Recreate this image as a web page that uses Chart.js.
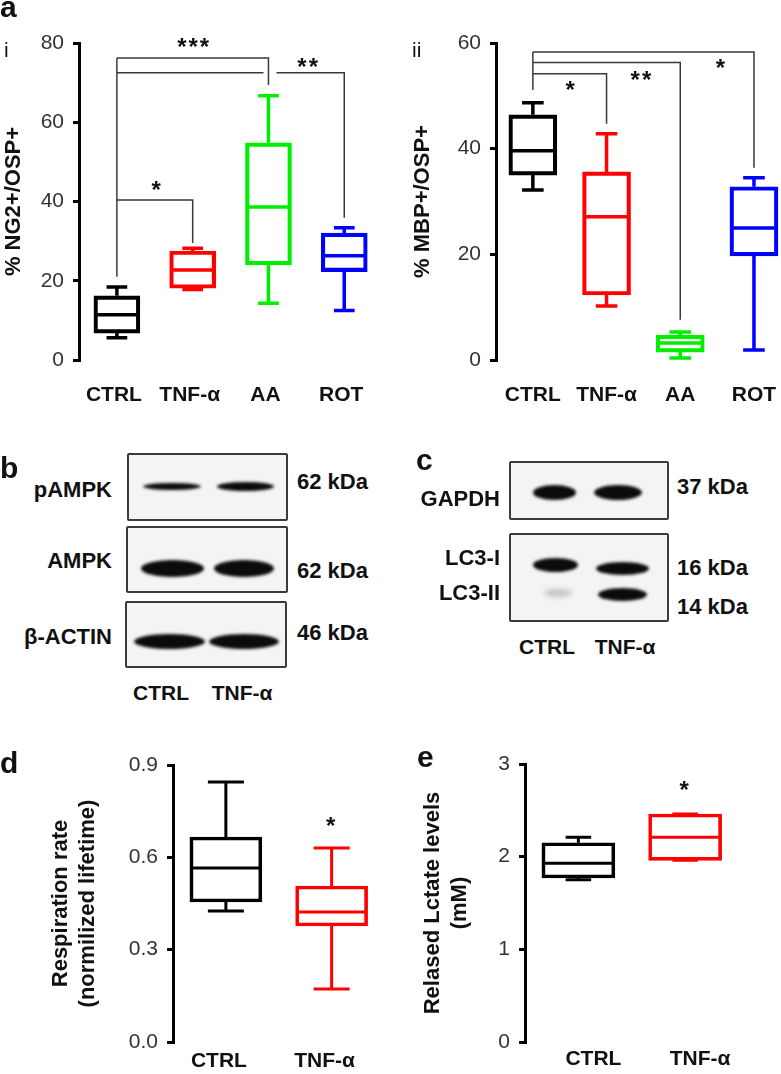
<!DOCTYPE html>
<html>
<head>
<meta charset="utf-8">
<script src="https://cdn.jsdelivr.net/npm/chart.js@4.4.1/dist/chart.umd.min.js"></script>
<style>
  html, body { margin: 0; padding: 0; width: 781px; height: 1074px; overflow: hidden; background: #fff; }
  canvas { position: absolute; }
  .t { position: absolute; font: bold 22px 'Liberation Sans', Arial, sans-serif; color: #111; white-space: nowrap; line-height: 1; }
  .blot { position: absolute; border: 2px solid #3a3a3a; border-radius: 2px; background: #f4f4f4; box-sizing: border-box; overflow: hidden; }
  .band { position: absolute; background: #0b0b0b; border-radius: 50%; filter: blur(1.6px); }
</style>
</head>
<body>
<canvas id="chartA1" width="390" height="420" style="left:0;top:0"></canvas>
<canvas id="chartA2" width="410" height="420" style="left:390px;top:0"></canvas>
<canvas id="chartD" width="390" height="344" style="left:0;top:740px"></canvas>
<canvas id="chartE" width="391" height="344" style="left:390px;top:740px"></canvas>

<!-- western blots, panel b -->
<div class="blot" style="left:127px;top:453px;width:161px;height:68px">
  <div class="band" style="left:14px;top:28px;width:58px;height:7px"></div>
  <div class="band" style="left:88px;top:27px;width:57px;height:9px"></div>
</div>
<div class="blot" style="left:126px;top:526px;width:162px;height:67px">
  <div class="band" style="left:13px;top:32px;width:63px;height:17px"></div>
  <div class="band" style="left:86px;top:32px;width:60px;height:17px"></div>
</div>
<div class="blot" style="left:125px;top:601px;width:162px;height:67px">
  <div class="band" style="left:7px;top:31px;width:71px;height:15px"></div>
  <div class="band" style="left:82px;top:31px;width:70px;height:15px"></div>
</div>

<!-- western blots, panel c -->
<div class="blot" style="left:509px;top:461px;width:160px;height:59px">
  <div class="band" style="left:22px;top:22px;width:43px;height:15px"></div>
  <div class="band" style="left:83px;top:22px;width:48px;height:15px"></div>
</div>
<div class="blot" style="left:509px;top:533px;width:160px;height:89px">
  <div class="band" style="left:22px;top:23px;width:45px;height:14px"></div>
  <div class="band" style="left:85px;top:27px;width:53px;height:13px"></div>
  <div class="band" style="left:33px;top:54px;width:28px;height:8px;background:#c4c4c4;filter:blur(2.5px)"></div>
  <div class="band" style="left:87px;top:53px;width:49px;height:13px"></div>
</div>

<script>
// ---- data ----
const groupsA = ['CTRL', 'TNF-α', 'AA', 'ROT'];
const groupsB = ['CTRL', 'TNF-α'];

// a(i) % NG2+/OSP+
const ng2Min = [5.6, 17.8, 14.3, 12.5];
const ng2Q1 = [6.8, 18.1, 24.0, 22.3];
const ng2Med = [11.4, 22.7, 38.6, 26.3];
const ng2Q3 = [16.2, 27.5, 54.8, 32.0];
const ng2Max = [18.4, 28.2, 66.7, 33.4];
const ng2Ticks = [0, 20, 40, 60, 80];

// a(ii) % MBP+/OSP+
const mbpMin = [32.2, 10.2, 0.4, 1.9];
const mbpQ1 = [35.0, 12.3, 1.5, 19.7];
const mbpMed = [39.6, 27.1, 3.2, 25.0];
const mbpQ3 = [46.4, 35.6, 4.7, 32.8];
const mbpMax = [48.7, 42.8, 5.3, 34.5];
const mbpTicks = [0, 20, 40, 60];

// d respiration rate
const respMin = [0.426, 0.172];
const respQ1 = [0.455, 0.377];
const respMed = [0.565, 0.422];
const respQ3 = [0.666, 0.507];
const respMax = [0.845, 0.630];
const respTicks = [0, 0.3, 0.6, 0.9];

// e lactate
const lacMin = [1.75, 1.96];
const lacQ1 = [1.77, 1.96];
const lacMed = [1.93, 2.21];
const lacQ3 = [2.15, 2.46];
const lacMax = [2.21, 2.46];
const lacTicks = [0, 1, 2, 3];

// significance brackets (category index, value units)
const ng2Brackets = [
  { from: 0, to: 2, y: 76.2, drop: 69.4 },
  { from: 0, to: 3, y: 72.5, drop: 35.9, gapAt: 2 },
  { from: 0, to: 1, y: 40.4, drop: 29.5 }
];
const ng2Stem = { at: 0, top: 76.2, bottom: 21.0 };
const ng2Stars = [
  { x: 1.02, y: 80.3, text: '***' },
  { x: 2.53, y: 75.3, text: '**' },
  { x: 0.53, y: 44.2, text: '*' }
];
const mbpBrackets = [
  { from: 0, to: 3, y: 58.3, drop: 36.4 },
  { from: 0, to: 2, y: 56.3, drop: 7.6 },
  { from: 0, to: 1, y: 54.2, drop: 44.7 }
];
const mbpStem = { at: 0, top: 58.3, bottom: 51.1 };
const mbpStars = [
  { x: 2.56, y: 56.2, text: '*' },
  { x: 1.48, y: 54.0, text: '**' },
  { x: 0.52, y: 52.1, text: '*' }
];
const respStars = [{ x: 1, y: 0.72, text: '*' }];
const lacStars = [{ x: 1, y: 2.78, text: '*' }];

const colorsA = ['#000000', '#ff0000', '#00ee00', '#0000ff'];
const colorsB = ['#000000', '#ff0000'];
const FONT = "'Liberation Sans', Arial, sans-serif";

function boxPlugin(s) {
  return {
    id: 'boxes',
    afterDatasetsDraw(chart) {
      const ctx = chart.ctx, x = chart.scales.x, y = chart.scales.y;
      const py = (v) => y.getPixelForValue(v);
      const bars = chart.getDatasetMeta(0).data;
      ctx.save();
      ctx.lineWidth = s.lineWidth;
      bars.forEach((bar, i) => {
        const cx = bar.x;
        const half = bar.width / 2 - s.lineWidth / 2;
        const cap = bar.width * s.capRatio / 2;
        ctx.strokeStyle = s.colors[i];
        ctx.beginPath();
        ctx.moveTo(cx - half, py(s.med[i])); ctx.lineTo(cx + half, py(s.med[i]));
        ctx.moveTo(cx, py(s.q3[i])); ctx.lineTo(cx, py(s.max[i]));
        ctx.moveTo(cx - cap, py(s.max[i])); ctx.lineTo(cx + cap, py(s.max[i]));
        ctx.moveTo(cx, py(s.q1[i])); ctx.lineTo(cx, py(s.min[i]));
        ctx.moveTo(cx - cap, py(s.min[i])); ctx.lineTo(cx + cap, py(s.min[i]));
        ctx.stroke();
      });

      ctx.strokeStyle = '#3a3a3a';
      ctx.lineWidth = 1.5;
      (s.brackets || []).forEach((b) => {
        const x0 = x.getPixelForValue(b.from), x1 = x.getPixelForValue(b.to), yy = py(b.y);
        ctx.beginPath();
        ctx.moveTo(x0, yy);
        if (b.gapAt != null) {
          const g = x.getPixelForValue(b.gapAt);
          ctx.lineTo(g - 5, yy);
          ctx.moveTo(g + 8, yy);
        }
        ctx.lineTo(x1, yy);
        ctx.lineTo(x1, py(b.drop));
        ctx.stroke();
      });
      if (s.stem) {
        const sx = x.getPixelForValue(s.stem.at);
        ctx.beginPath();
        ctx.moveTo(sx, py(s.stem.top));
        ctx.lineTo(sx, py(s.stem.bottom));
        ctx.stroke();
      }

      ctx.fillStyle = '#111';
      ctx.font = 'bold 24px ' + FONT;
      ctx.textAlign = 'center';
      ctx.textBaseline = 'alphabetic';
      if ('letterSpacing' in ctx) ctx.letterSpacing = '2px';
      (s.stars || []).forEach((st) => {
        ctx.fillText(st.text, x.getPixelForValue(st.x), py(st.y) + 0.55 * 24);
      });
      ctx.restore();
    }
  };
}

function boxChart(id, labels, s, o) {
  return new Chart(document.getElementById(id), {
    type: 'bar',
    data: {
      labels: labels,
      datasets: [{
        data: s.q1.map((q, i) => [q, s.q3[i]]),
        backgroundColor: 'rgba(0,0,0,0)',
        borderColor: s.colors,
        borderWidth: s.lineWidth,
        borderSkipped: false,
        barThickness: o.boxWidth
      }]
    },
    options: {
      responsive: false,
      animation: false,
      events: [],
      layout: { padding: o.padding },
      plugins: { legend: { display: false }, tooltip: { enabled: false } },
      scales: {
        x: {
          grid: { display: false, drawTicks: false },
          border: { display: false },
          ticks: {
            color: '#111', font: { family: FONT, size: 21, weight: 'bold' },
            padding: o.xPad, labelOffset: o.labelOffset || 0, maxRotation: 0, autoSkip: false
          },
          afterFit: (sc) => { sc.height = o.xHeight; }
        },
        y: {
          min: o.ticks[0],
          max: o.ticks[o.ticks.length - 1],
          afterBuildTicks: (sc) => { sc.ticks = o.ticks.map((v) => ({ value: v })); },
          border: { display: true, width: 3, color: '#000' },
          grid: { drawOnChartArea: false, drawTicks: true, tickLength: 6, lineWidth: 3, color: '#000' },
          ticks: {
            color: '#333', font: { family: FONT, size: 21 }, padding: 9,
            callback: o.format || ((v) => v)
          },
          title: {
            display: true, text: o.title, color: '#111',
            font: { family: FONT, size: 22, weight: 'bold', lineHeight: 1.2 },
            padding: { top: o.titlePad, bottom: 0 }
          },
          afterFit: (sc) => { sc.width = o.yWidth; }
        }
      }
    },
    plugins: [boxPlugin(s)]
  });
}

boxChart('chartA1', groupsA, {
  min: ng2Min, q1: ng2Q1, med: ng2Med, q3: ng2Q3, max: ng2Max,
  colors: colorsA, capRatio: 0.45, lineWidth: 3.5,
  brackets: ng2Brackets, stem: ng2Stem, stars: ng2Stars
}, {
  ticks: ng2Ticks, title: '% NG2+/OSP+', titlePad: 1, yWidth: 79, xHeight: 60, xPad: 23,
  labelOffset: -3, boxWidth: 46, padding: { top: 43, left: 0, right: 4.6, bottom: 0 }
});

boxChart('chartA2', groupsA, {
  min: mbpMin, q1: mbpQ1, med: mbpMed, q3: mbpQ3, max: mbpMax,
  colors: colorsA, capRatio: 0.45, lineWidth: 3.5,
  brackets: mbpBrackets, stem: mbpStem, stars: mbpStars
}, {
  ticks: mbpTicks, title: '% MBP+/OSP+', titlePad: 20, yWidth: 106, xHeight: 60, xPad: 23,
  boxWidth: 48, padding: { top: 43, left: 0, right: 7, bottom: 0 }
});

boxChart('chartD', groupsB, {
  min: respMin, q1: respQ1, med: respMed, q3: respQ3, max: respMax,
  colors: colorsB, capRatio: 0.5, lineWidth: 3, stars: respStars
}, {
  ticks: respTicks, title: ['Respiration rate', '(normilized lifetime)'], titlePad: 48,
  format: (v) => v.toFixed(1), yWidth: 173, xHeight: 42, xPad: 7, labelOffset: -7,
  boxWidth: 72, padding: { top: 25, left: 0, right: 5.5, bottom: 0 }
});

boxChart('chartE', groupsB, {
  min: lacMin, q1: lacQ1, med: lacMed, q3: lacQ3, max: lacMax,
  colors: colorsB, capRatio: 0.35, lineWidth: 3, stars: lacStars
}, {
  ticks: lacTicks, title: ['Relased Lctate levels', '(mM)'], titlePad: 30,
  yWidth: 135, xHeight: 42, xPad: 5, labelOffset: 15,
  boxWidth: 73, padding: { top: 24, left: 0, right: 42.5, bottom: 0 }
});

// ---- text labels around the panels ----
function label(text, x, y, align, size, weight) {
  const el = document.createElement('div');
  el.className = 't';
  el.textContent = text;
  el.style.left = x + 'px';
  el.style.top = y + 'px';
  const tx = align === 'right' ? '-100%' : align === 'center' ? '-50%' : '0';
  el.style.transform = 'translate(' + tx + ', -50%)';
  if (size) el.style.fontSize = size + 'px';
  if (weight) el.style.fontWeight = weight;
  document.body.appendChild(el);
}

label('a', 0, 7, 'left', 30);
label('i', 4, 49, 'left', 21, 'normal');
label('ii', 412, 49, 'left', 21, 'normal');
label('b', 0, 468, 'left', 30);
label('c', 416, 460, 'left', 30);
label('d', 0, 763, 'left', 30);
label('e', 417, 757, 'left', 30);

label('pAMPK', 112, 490, 'right');
label('AMPK', 112, 561, 'right');
label('β-ACTIN', 112, 637, 'right');
label('62 kDa', 297, 482, 'left');
label('62 kDa', 297, 571, 'left');
label('46 kDa', 297, 633, 'left');
label('CTRL', 161, 692, 'center', 21);
label('TNF-α', 242, 692, 'center', 21);

label('GAPDH', 500, 499, 'right');
label('LC3-I', 500, 558, 'right');
label('LC3-II', 500, 593, 'right');
label('37 kDa', 677, 487, 'left');
label('16 kDa', 677, 568, 'left');
label('14 kDa', 677, 607, 'left');
label('CTRL', 547, 646, 'center', 21);
label('TNF-α', 625, 646, 'center', 21);
</script>
</body>
</html>
